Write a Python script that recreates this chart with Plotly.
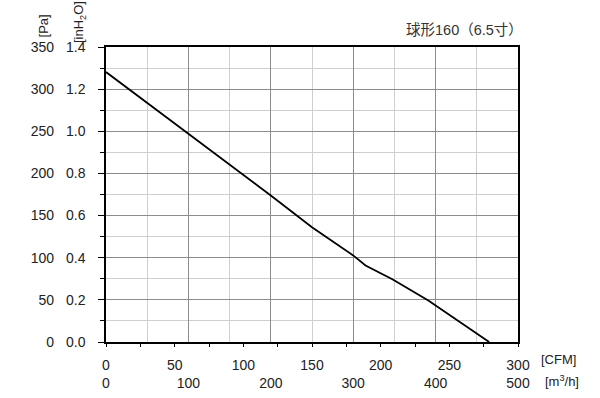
import plotly.graph_objects as go

# Data (airflow in CFM, static pressure in inH2O)
flow_cfm = [0, 30, 60, 90, 120, 150, 180, 189, 208.5, 234.7, 279]
pressure_inh2o = [1.281, 1.135, 0.985, 0.84, 0.695, 0.545, 0.411, 0.363, 0.298, 0.197, 0.0]

cfm_ticks = [0, 50, 100, 150, 200, 250, 300]
m3h_ticks = [0, 100, 200, 300, 400, 500]
inh2o_ticks = [0.0, 0.2, 0.4, 0.6, 0.8, 1.0, 1.2, 1.4]
pa_ticks = [0, 50, 100, 150, 200, 250, 300, 350]

title_text = "球形160（6.5寸）"

FONT = "Liberation Sans, Arial, sans-serif"
TXT = "#222222"
DARK_GRID = "#8c8c8c"
LIGHT_GRID = "#cfcfcf"

fig = go.Figure()
fig.add_trace(go.Scatter(x=flow_cfm, y=pressure_inh2o, mode="lines",
                         line=dict(color="black", width=1.8),
                         showlegend=False, hoverinfo="skip"))
# empty trace to bind the secondary unit axes
fig.add_trace(go.Scatter(x=[None], y=[None], xaxis="x2", yaxis="y2",
                         mode="lines", showlegend=False, hoverinfo="skip"))

fig.update_layout(
    width=600, height=398,
    margin=dict(l=106, r=82, t=47, b=56, autoexpand=False),
    paper_bgcolor="white", plot_bgcolor="white",
    font=dict(family=FONT, size=14, color=TXT),
    xaxis=dict(range=[0, 300], tickvals=cfm_ticks, ticktext=[str(v) for v in cfm_ticks],
               automargin=False, showgrid=False, zeroline=False,
               showline=True, linecolor="black", linewidth=1.5, mirror=True,
               ticks="outside", ticklen=3, tickcolor="black", tickwidth=1,
               minor=dict(dtick=25, ticks="outside", ticklen=3, tickcolor="black", showgrid=False),
               ticklabelstandoff=6, tickfont=dict(size=14, color=TXT)),
    xaxis2=dict(range=[0, 500], overlaying="x", side="bottom", anchor="y",
                tickvals=m3h_ticks, ticktext=[str(v) for v in m3h_ticks],
                automargin=False, showline=False, zeroline=False, ticks="",
                showgrid=True, gridcolor=DARK_GRID, gridwidth=1,
                minor=dict(dtick=50, showgrid=True, gridcolor=LIGHT_GRID, gridwidth=1, ticks=""),
                ticklabelstandoff=31, tickfont=dict(size=14, color=TXT)),
    yaxis=dict(range=[0, 1.4], tickvals=inh2o_ticks, ticktext=[f"{v:.1f}" for v in inh2o_ticks],
               automargin=False, showgrid=True, gridcolor=DARK_GRID, gridwidth=1, zeroline=False,
               showline=True, linecolor="black", linewidth=1.5, mirror=True,
               ticks="outside", ticklen=6, tickcolor="black",
               minor=dict(dtick=0.1, ticks="outside", ticklen=4, tickcolor="black",
                          showgrid=True, gridcolor=LIGHT_GRID, gridwidth=1),
               ticklabelstandoff=10, tickfont=dict(size=14, color=TXT)),
    yaxis2=dict(range=[0, 350], overlaying="y", side="left", anchor="x",
                tickvals=pa_ticks, ticktext=[str(v) for v in pa_ticks],
                automargin=False, showgrid=False, zeroline=False, showline=False, ticks="",
                ticklabelstandoff=51, tickfont=dict(size=14, color=TXT)),
)

ann_font = dict(family=FONT, size=13, color=TXT)
common = dict(xref="paper", yref="paper", showarrow=False, yanchor="middle")
fig.add_annotation(text="[Pa]", x=-0.152, y=1.071, xanchor="center",
                   textangle=-90, font=ann_font, **common)
fig.add_annotation(text="[inH<sub>2</sub>O]", x=-0.0655, y=1.0847, xanchor="center",
                   textangle=-90, font=ann_font, **common)
fig.add_annotation(text="[CFM]", x=1.051, y=-0.061, xanchor="left", font=ann_font, **common)
fig.add_annotation(text="[m<sup>3</sup>/h]", x=1.061, y=-0.132, xanchor="left",
                   font=ann_font, **common)
fig.add_annotation(text=title_text, x=0.869, y=1.0576, xanchor="center",
                   font=dict(family="Liberation Sans, Noto Sans CJK SC, sans-serif",
                             size=14.5, color="#333333"),
                   **common)

# remove the default 8px page margin so the figure fills the window exactly
fig.write_html("out.html", config={"displayModeBar": False},
               post_script="document.body.style.margin='0';document.body.style.overflow='hidden';")
